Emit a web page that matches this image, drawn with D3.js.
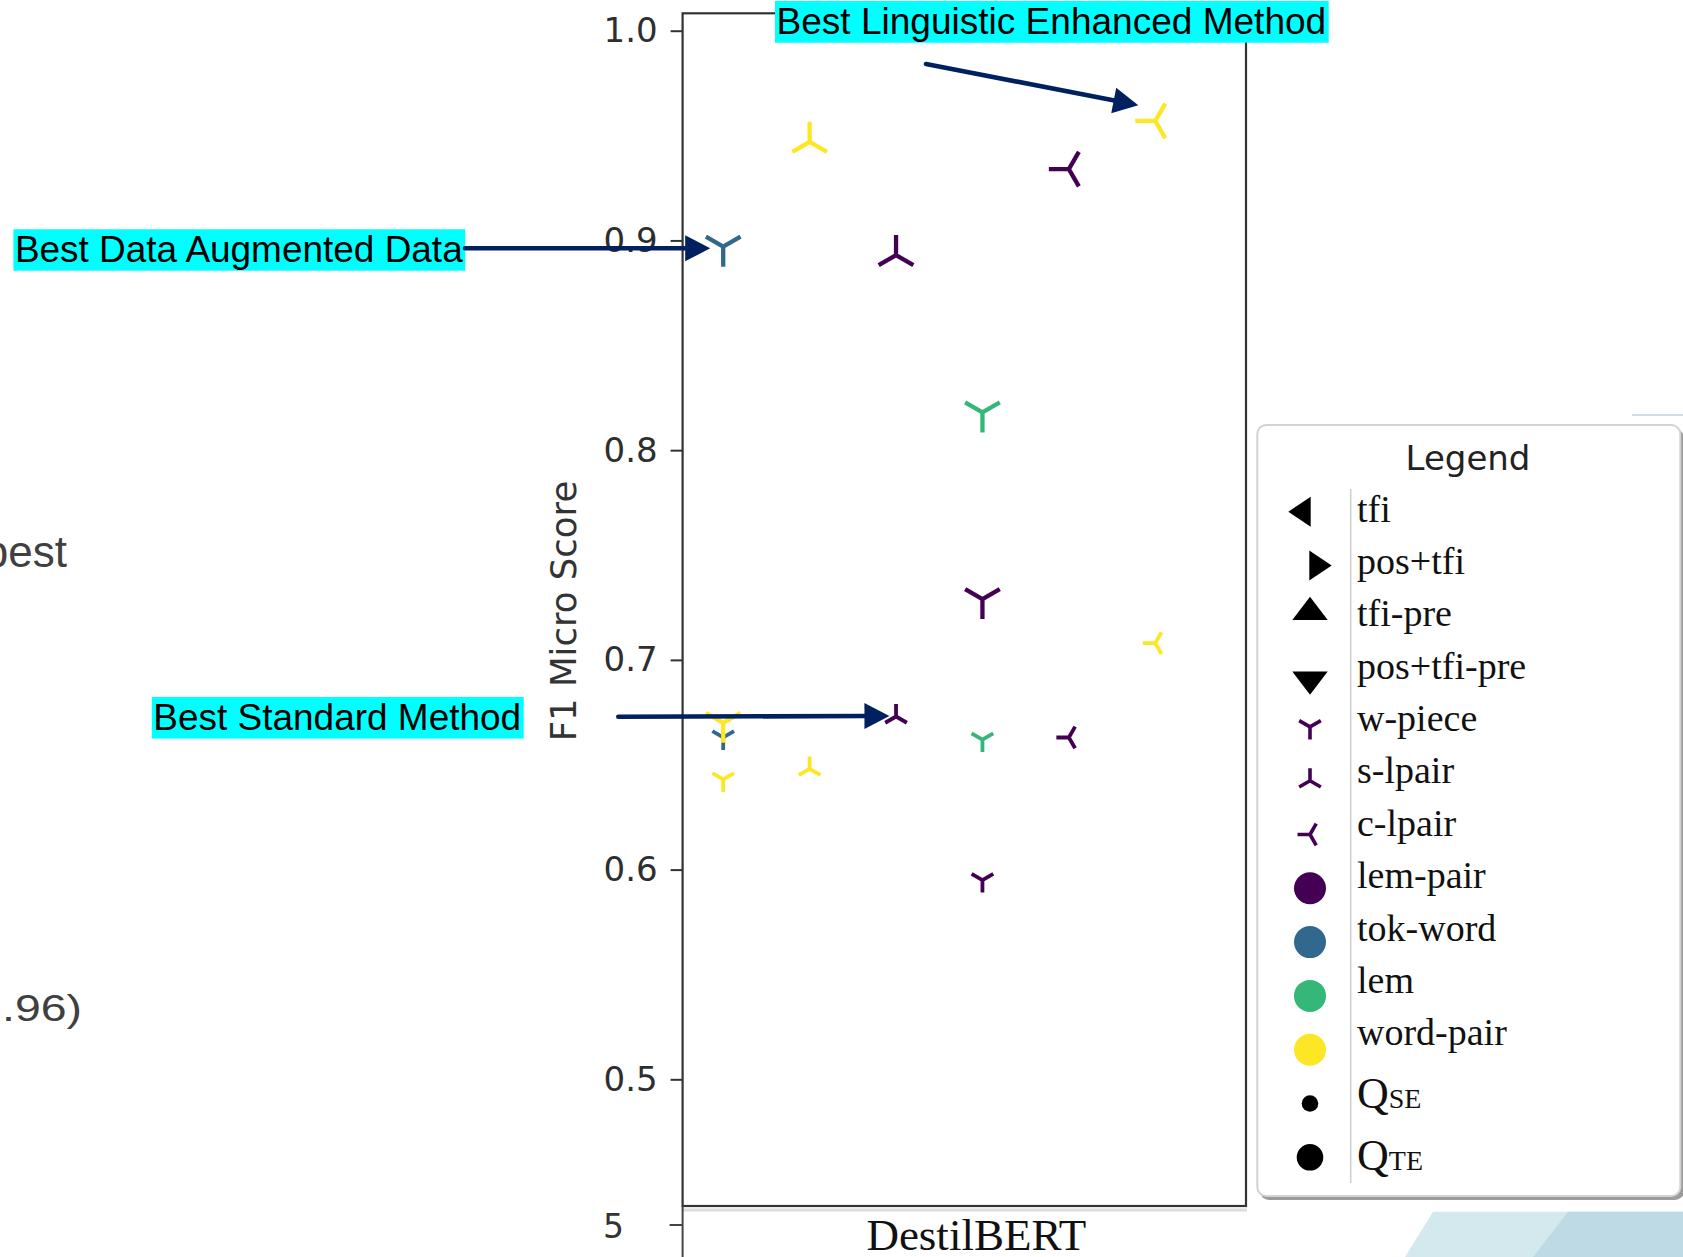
<!DOCTYPE html>
<html>
<head>
<meta charset="utf-8">
<script src="https://cdn.jsdelivr.net/npm/d3@7"></script>
<style>
  html, body { margin: 0; padding: 0; background: #fff; }
  svg { display: block; }
</style>
</head>
<body>
<svg id="chart" width="1683" height="1257"></svg>
<script>
// F1 micro scores of DestilBERT per tokenisation method, input data and quality estimator
const category = "DestilBERT";
const yTicks = [0.5, 0.6, 0.7, 0.8, 0.9, 1.0];

const pointMethod  = ["w-piece", "w-piece", "w-piece", "w-piece",
                      "s-lpair", "s-lpair", "s-lpair", "s-lpair",
                      "w-piece", "w-piece", "w-piece", "w-piece",
                      "c-lpair", "c-lpair", "c-lpair", "c-lpair"];
const pointData    = ["tok-word", "tok-word", "word-pair", "word-pair",
                      "word-pair", "word-pair", "lem-pair", "lem-pair",
                      "lem", "lem", "lem-pair", "lem-pair",
                      "lem-pair", "lem-pair", "word-pair", "word-pair"];
const pointQuality = ["QTE", "QSE", "QTE", "QSE",
                      "QTE", "QSE", "QTE", "QSE",
                      "QTE", "QSE", "QTE", "QSE",
                      "QTE", "QSE", "QTE", "QSE"];
const pointSlot    = [0, 0, 0, 0, 1, 1, 2, 2, 3, 3, 3, 3, 4, 4, 5, 5];
const pointScore   = [0.897, 0.663, 0.670, 0.643,
                      0.947, 0.648, 0.893, 0.673,
                      0.818, 0.662, 0.729, 0.595,
                      0.934, 0.663, 0.957, 0.708];

const dataTypes = ["lem-pair", "tok-word", "lem", "word-pair"];
const methods = ["tfi", "pos+tfi", "tfi-pre", "pos+tfi-pre", "w-piece", "s-lpair", "c-lpair"];
const qualities = ["QSE", "QTE"];

// annotation callouts: text and the point index each arrow refers to
const noteTexts  = ["Best Linguistic Enhanced Method", "Best Data Augmented Data", "Best Standard Method"];
const noteTarget = [14, 0, 7];

const W = 1683, H = 1257;
const svg = d3.select("#chart");
svg.append("rect").attr("width", W).attr("height", H).attr("fill", "#fff");

// ---- slide background pieces around the figure ----
svg.append("path").attr("d", "M1433,1211.7 L1683,1211.7 L1683,1257 L1405,1257 Z").attr("fill", "#d3e9ee");
svg.append("path").attr("d", "M1568,1211.7 L1683,1211.7 L1683,1257 L1533,1257 Z").attr("fill", "#bedbe5");
svg.append("line").attr("x1", 1632).attr("x2", 1683).attr("y1", 415).attr("y2", 415)
  .attr("stroke", "#c4d2de").attr("stroke-width", 1.5);

svg.append("text").attr("x", 67).attr("y", 567).attr("text-anchor", "end")
  .attr("font-family", "Liberation Sans, Arial, sans-serif").attr("font-size", 44)
  .attr("fill", "#404040").text("best");
svg.append("text").attr("x", 2).attr("y", 1021)
  .attr("font-family", "Liberation Sans, Arial, sans-serif").attr("font-size", 36)
  .attr("textLength", 80).attr("lengthAdjust", "spacingAndGlyphs")
  .attr("fill", "#404040").text(".96)");

// ---- plot area ----
const plot = { left: 682.6, right: 1246, top: 13.3, bottom: 1206 };
const x = d3.scaleLinear().domain([-0.47, 6.05]).range([plot.left, plot.right]);
const y = d3.scaleLinear().domain([0.4396, 1.0083]).range([plot.bottom, plot.top]);
const color = d3.scaleOrdinal().domain(dataTypes)
  .range(dataTypes.map((d, i) => d3.interpolateViridis(i / (dataTypes.length - 1))));
const armLen = d3.scaleOrdinal().domain(qualities).range([12.5, 20]);
const armWidth = d3.scaleOrdinal().domain(qualities).range([3.8, 4.3]);

// tri markers: three strokes from the centre, angles in screen degrees
const armAngles = {
  "w-piece": [90, 210, 330],
  "s-lpair": [270, 150, 30],
  "c-lpair": [180, 300, 60]
};
function armSymbol(degs) {
  return {
    draw(ctx, size) {
      const r = Math.sqrt(size);
      degs.forEach(d => {
        const a = d * Math.PI / 180;
        ctx.moveTo(0, 0);
        ctx.lineTo(r * Math.cos(a), r * Math.sin(a));
      });
    }
  };
}
// filled triangle pointing along angle deg
function wedgeSymbol(deg, aspect) {
  return {
    draw(ctx, size) {
      const h = Math.sqrt(size), w = aspect * h;
      const a = deg * Math.PI / 180, c = Math.cos(a), s = Math.sin(a);
      const pts = [[h / 2, 0], [-h / 2, -w], [-h / 2, w]]
        .map(([px, py]) => [px * c - py * s, px * s + py * c]);
      ctx.moveTo(pts[0][0], pts[0][1]);
      ctx.lineTo(pts[1][0], pts[1][1]);
      ctx.lineTo(pts[2][0], pts[2][1]);
      ctx.closePath();
    }
  };
}

const axisG = svg.append("g").attr("transform", `translate(${plot.left},0)`)
  .call(d3.axisLeft(y).tickValues(yTicks).tickFormat(d3.format(".1f")).tickSize(12).tickPadding(13));
axisG.select(".domain").remove();
axisG.selectAll(".tick line").attr("stroke", "#333").attr("stroke-width", 2);
axisG.selectAll(".tick text").attr("font-family", "DejaVu Sans, sans-serif")
  .attr("font-size", 34).attr("fill", "#2e2e2e");

svg.append("rect").attr("x", plot.left).attr("y", plot.top)
  .attr("width", plot.right - plot.left).attr("height", plot.bottom - plot.top)
  .attr("fill", "none").attr("stroke", "#333").attr("stroke-width", 2.2);

// edge of the figure below the plot
svg.append("line").attr("x1", plot.left).attr("x2", plot.right + 1).attr("y1", 1210).attr("y2", 1210)
  .attr("stroke", "#dcdcdc").attr("stroke-width", 3);
svg.append("line").attr("x1", plot.left).attr("x2", plot.left).attr("y1", plot.bottom).attr("y2", H)
  .attr("stroke", "#444").attr("stroke-width", 2);
svg.append("line").attr("x1", plot.left - 13).attr("x2", plot.left).attr("y1", 1225).attr("y2", 1225)
  .attr("stroke", "#444").attr("stroke-width", 2);
svg.append("text").attr("x", 624).attr("y", 1226).attr("dy", "0.35em").attr("text-anchor", "end")
  .attr("font-family", "DejaVu Sans, sans-serif").attr("font-size", 33).attr("fill", "#333").text("5");

svg.append("text").attr("x", (plot.left + plot.right) / 2 + 12).attr("y", 1250).attr("text-anchor", "middle")
  .attr("font-family", "Liberation Serif, Times New Roman, serif").attr("font-size", 45)
  .attr("fill", "#111").text(category);

svg.append("text").attr("transform", `translate(576,${(y(0.7) + y(0.8)) / 2 + 56}) rotate(-90)`)
  .attr("text-anchor", "middle").attr("font-family", "DejaVu Sans, sans-serif")
  .attr("font-size", 35.5).attr("fill", "#333").text("F1 Micro Score");

// ---- points ----
const pts = pointScore.map((v, i) => ({
  score: v, slot: pointSlot[i], method: pointMethod[i], data: pointData[i], q: pointQuality[i]
}));
svg.append("g").selectAll("path").data(pts).join("path")
  .attr("transform", d => `translate(${x(d.slot)},${y(d.score)})`)
  .attr("d", d => d3.symbol().type(armSymbol(armAngles[d.method])).size(armLen(d.q) ** 2)())
  .attr("fill", "none")
  .attr("stroke", d => color(d.data))
  .attr("stroke-width", d => armWidth(d.q));

// ---- legend ----
const lg = svg.append("g");
lg.append("rect").attr("x", 1260).attr("y", 429).attr("width", 424).attr("height", 771).attr("rx", 9)
  .attr("fill", "#9c9c9c");
lg.append("rect").attr("x", 1257.3).attr("y", 425).attr("width", 423).attr("height", 771).attr("rx", 9)
  .attr("fill", "#fff").attr("stroke", "#d2d2d2").attr("stroke-width", 2);
lg.append("text").attr("x", 1468).attr("y", 470).attr("text-anchor", "middle")
  .attr("font-family", "DejaVu Sans, sans-serif").attr("font-size", 34).attr("fill", "#222").text("Legend");
lg.append("line").attr("x1", 1350.7).attr("x2", 1350.7).attr("y1", 489).attr("y2", 1183)
  .attr("stroke", "#cfcfcf").attr("stroke-width", 1.5);

const markerX = 1310, markerTop = 511.7, markerStep = 53.8;
const labelX = 1357, labelTop = 521.7, labelStep = 52.35;
const serif = "Liberation Serif, Times New Roman, serif";

const wedges = {
  "tfi":         { sym: wedgeSymbol(180, 0.67), size: 22.4, dx: -10.5, dy: 0 },
  "pos+tfi":     { sym: wedgeSymbol(0, 0.67),   size: 22.4, dx: 10.5,  dy: 0 },
  "tfi-pre":     { sym: wedgeSymbol(270, 0.76), size: 23.3, dx: 0,     dy: -11 },
  "pos+tfi-pre": { sym: wedgeSymbol(90, 0.76),  size: 23.3, dx: 0,     dy: 10 }
};
methods.forEach((m, i) => {
  const cy = markerTop + i * markerStep;
  if (wedges[m]) {
    const w = wedges[m];
    lg.append("path").attr("transform", `translate(${markerX + w.dx},${cy + w.dy})`)
      .attr("d", d3.symbol().type(w.sym).size(w.size ** 2)()).attr("fill", "#000");
  } else {
    lg.append("path").attr("transform", `translate(${markerX},${cy})`)
      .attr("d", d3.symbol().type(armSymbol(armAngles[m])).size(156)())
      .attr("fill", "none").attr("stroke", color("lem-pair")).attr("stroke-width", 3.6);
  }
  lg.append("text").attr("x", labelX).attr("y", labelTop + i * labelStep)
    .attr("font-family", serif).attr("font-size", 38).attr("fill", "#111").text(m);
});
dataTypes.forEach((t, j) => {
  const i = methods.length + j;
  lg.append("path").attr("transform", `translate(${markerX},${markerTop + i * markerStep})`)
    .attr("d", d3.symbol().type(d3.symbolCircle).size(Math.PI * 16 * 16)()).attr("fill", color(t));
  lg.append("text").attr("x", labelX).attr("y", labelTop + i * labelStep)
    .attr("font-family", serif).attr("font-size", 38).attr("fill", "#111").text(t);
});
const qRadius = d3.scaleOrdinal().domain(qualities).range([8.3, 13.3]);
qualities.forEach((q, j) => {
  const i = methods.length + dataTypes.length + j;
  lg.append("path").attr("transform", `translate(${markerX},${markerTop + i * markerStep})`)
    .attr("d", d3.symbol().type(d3.symbolCircle).size(Math.PI * qRadius(q) ** 2)()).attr("fill", "#000");
  const t = lg.append("text").attr("x", labelX).attr("y", labelTop + i * labelStep + 10 * (j + 1))
    .attr("font-family", serif).attr("fill", "#111");
  t.append("tspan").attr("font-size", 44).text(q[0]);
  t.append("tspan").attr("font-size", 28).text(q.slice(1));
});

// ---- callouts ----
const navy = "#002060";
const noteBoxes = [
  { x0: 775, x1: 1328.7, y0: 1, y1: 42.7 },
  { x0: 13.4, x1: 465.2, y0: 229.3, y1: 270.7 },
  { x0: 151.8, x1: 523.7, y0: 697, y1: 738.6 }
];
const noteArrowStart = [[926, 64], [465, 248.3], [618.3, 716.8]];
const noteArrowTipOffset = [[-17, -15.7], [-13, 1.6], [-6.6, -0.6]];

function arrow(g, x1, y1, x2, y2) {
  const len = Math.hypot(x2 - x1, y2 - y1), ux = (x2 - x1) / len, uy = (y2 - y1) / len;
  const hl = 25, hw = 13;
  const bx = x2 - ux * hl, by = y2 - uy * hl;
  g.append("line").attr("x1", x1).attr("y1", y1).attr("x2", bx + ux * 2).attr("y2", by + uy * 2)
    .attr("stroke", navy).attr("stroke-width", 4.6).attr("stroke-linecap", "round");
  const p = d3.path();
  p.moveTo(x2, y2);
  p.lineTo(bx - uy * hw, by + ux * hw);
  p.lineTo(bx + uy * hw, by - ux * hw);
  p.closePath();
  g.append("path").attr("d", p.toString()).attr("fill", navy);
}

const notes = svg.append("g");
noteTexts.forEach((txt, i) => {
  const b = noteBoxes[i];
  notes.append("rect").attr("x", b.x0).attr("y", b.y0).attr("width", b.x1 - b.x0).attr("height", b.y1 - b.y0)
    .attr("fill", "#00ffff");
  notes.append("text").attr("x", b.x0 + 1.5).attr("y", b.y1 - 8.8)
    .attr("font-family", "Liberation Sans, Arial, sans-serif").attr("font-size", 37)
    .attr("textLength", b.x1 - b.x0 - 4).attr("lengthAdjust", "spacingAndGlyphs")
    .attr("fill", "#000").text(txt);
  const p = pts[noteTarget[i]];
  const [sx, sy] = noteArrowStart[i];
  const [ox, oy] = noteArrowTipOffset[i];
  arrow(notes, sx, sy, x(p.slot) + ox, y(p.score) + oy);
});
</script>
</body>
</html>
